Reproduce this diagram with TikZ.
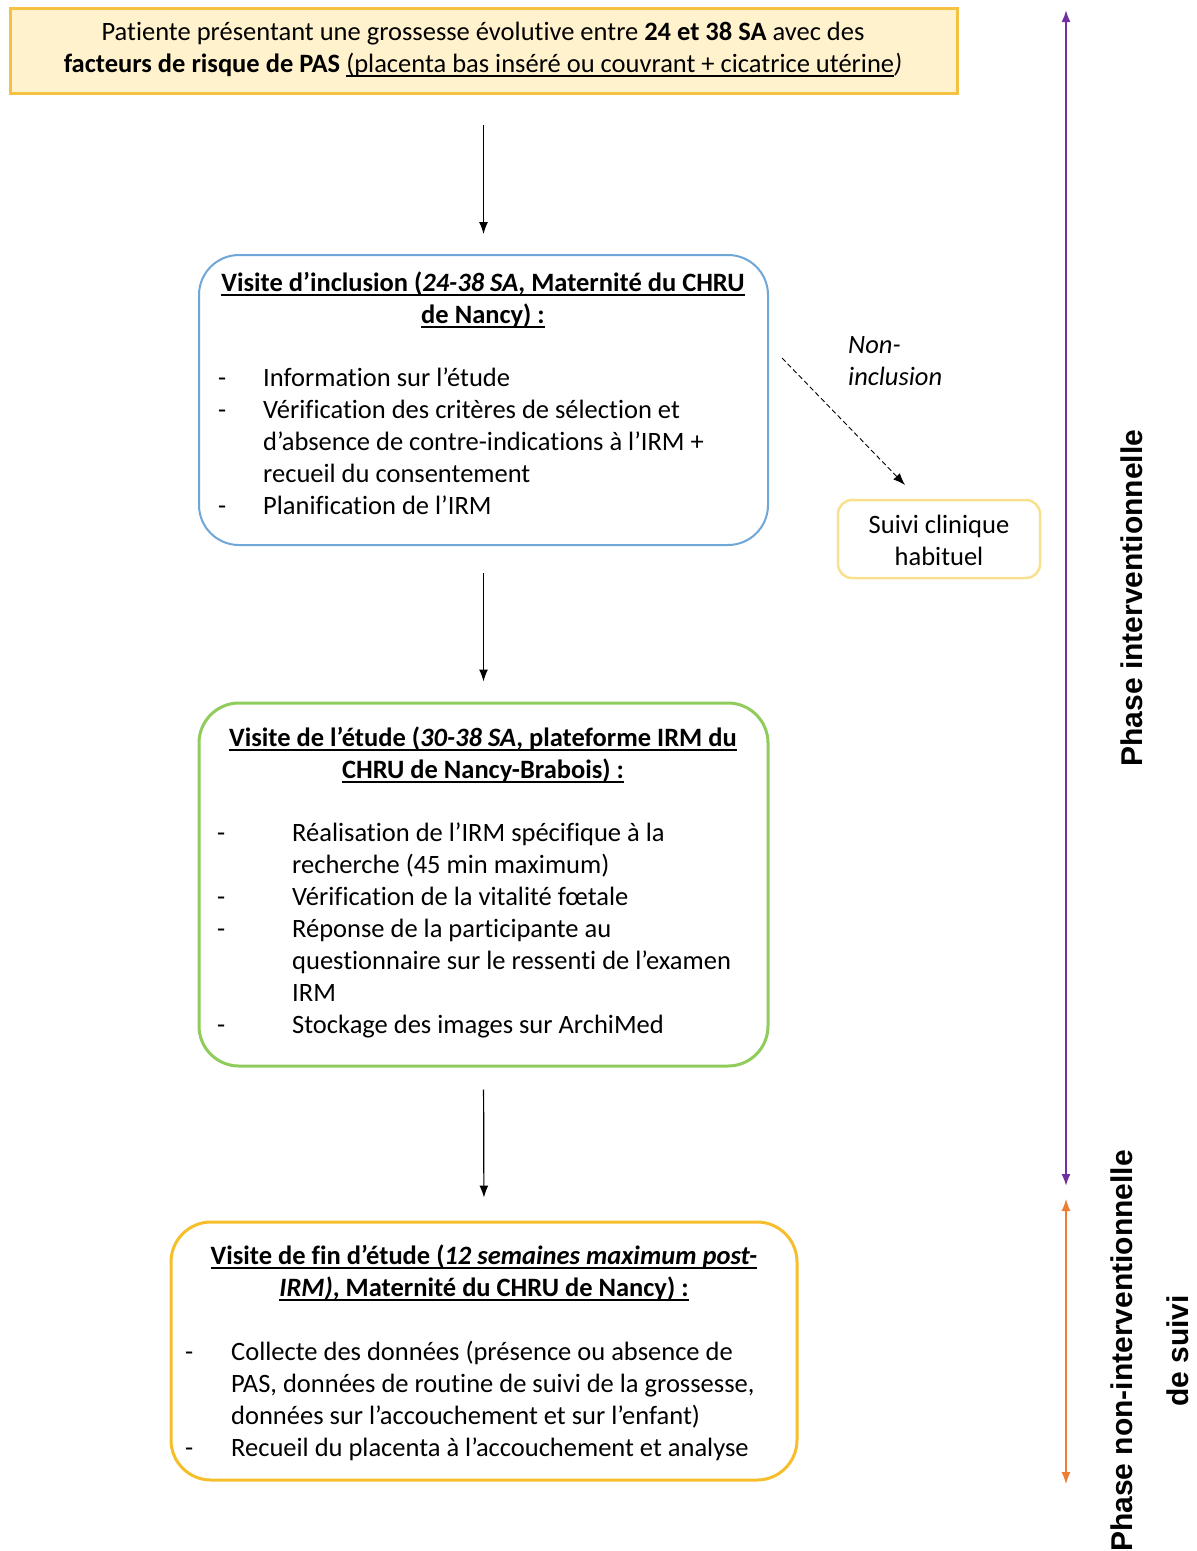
\documentclass[tikz,border=0pt]{standalone}
\usepackage{fontspec}
\setmainfont{Carlito}[Ligatures=NoCommon]
\newfontfamily\arialf{Liberation Sans}
\newcommand\ulin[1]{\setbox0\hbox{#1}\rlap{\rule[-4.5pt]{\wd0}{1.4pt}}\box0}
\usetikzlibrary{arrows.meta}
\definecolor{topfill}{HTML}{FFF2CC}
\definecolor{topline}{HTML}{F4C141}
\definecolor{blueline}{HTML}{6FA6D8}
\definecolor{greenline}{HTML}{8FCC5C}
\definecolor{goldline}{HTML}{F6BE2A}
\definecolor{paleline}{HTML}{F8E08E}
\definecolor{purp}{HTML}{7030A0}
\definecolor{oran}{HTML}{ED7D31}
\tikzset{
  bodyfont/.style={font=\fontsize{26.5}{32}\selectfont},
  txt/.style={inner sep=0pt, bodyfont},
  stepbox/.style={draw, rounded corners=40pt, fill=white},
  arr/.style={-{Latex[length=12pt,width=9pt]}, line width=1.2pt, black},
  phasearr/.style={{Latex[length=12pt,width=9pt]}-{Latex[length=12pt,width=9pt]}},
  phasetxt/.style={inner sep=0pt, rotate=90, align=center, font=\arialf\bfseries\fontsize{30}{56}\selectfont},
}
\begin{document}
\begin{tikzpicture}[x=1pt,y=-1pt]
\useasboundingbox (0,0) rectangle (1197,1551);
% top box
\node[draw=topline, line width=3pt, fill=topfill, minimum width=947pt, minimum height=85pt] (top) at (483.5,50.5) {};
\node[txt, anchor=base] (toptxt) at (483,40) {\begin{tabular}[t]{@{}c@{}}Patiente présentant une grossesse évolutive entre \textbf{24 et 38 SA} avec des\\
\textbf{facteurs de risque de PAS} \ulin{(placenta bas inséré ou couvrant + cicatrice utérine}\textit{)}\end{tabular}};
% inclusion box
\node[stepbox, draw=blueline, line width=2pt, minimum width=569pt, minimum height=290pt] (incl) at (483.5,400) {};
\node[txt, anchor=base] (inclt) at (483,291) {\begin{tabular}[t]{@{}c@{}}\bfseries\ulin{Visite d’inclusion (\textit{24-38 SA}, Maternité du CHRU}\\
\bfseries\ulin{de Nancy) :}\end{tabular}};
\node[txt, anchor=base west] (incll) at (218,386) {\begin{tabular}[t]{@{}p{45pt}@{}l@{}}
-& Information sur l’étude\\
-& Vérification des critères de sélection et\\
 & d’absence de contre-indications à l’IRM +\\
 & recueil du consentement\\
-& Planification de l’IRM
\end{tabular}};
% study visit box
\node[stepbox, draw=greenline, line width=3pt, minimum width=569pt, minimum height=363pt] (etude) at (483.5,884.5) {};
\node[txt, anchor=base] (etudet) at (483,746) {\begin{tabular}[t]{@{}c@{}}\bfseries\ulin{Visite de l’étude (\textit{30-38 SA}, plateforme IRM du}\\
\bfseries\ulin{CHRU de Nancy-Brabois) :}\end{tabular}};
\node[txt, anchor=base west] (etudel) at (217,841) {\begin{tabular}[t]{@{}p{75pt}@{}l@{}}
-& Réalisation de l’IRM spécifique à la\\
 & recherche (45 min maximum)\\
-& Vérification de la vitalité fœtale\\
-& Réponse de la participante au\\
 & questionnaire sur le ressenti de l’examen\\
 & IRM\\
-& Stockage des images sur ArchiMed
\end{tabular}};
% end-of-study box
\node[stepbox, draw=goldline, line width=3pt, minimum width=626pt, minimum height=258pt] (fin) at (484,1351) {};
\node[txt, anchor=base] (fint) at (484,1264) {\begin{tabular}[t]{@{}c@{}}\bfseries\ulin{Visite de fin d’étude (\textit{12 semaines maximum post-}}\\
\bfseries\ulin{\textit{IRM)}, Maternité du CHRU de Nancy) :}\end{tabular}};
\node[txt, anchor=base west] (finl) at (185,1360) {\begin{tabular}[t]{@{}p{46pt}@{}l@{}}
-& Collecte des données (présence ou absence de\\
 & PAS, données de routine de suivi de la grossesse,\\
 & données sur l’accouchement et sur l’enfant)\\
-& Recueil du placenta à l’accouchement et analyse
\end{tabular}};
% suivi box
\node[draw=paleline, line width=2.5pt, rounded corners=14pt, minimum width=202pt, minimum height=78pt] (suivi) at (939,539) {};
\node[txt, anchor=base] (suivit) at (939,533) {\begin{tabular}[t]{@{}c@{}}Suivi clinique\\habituel\end{tabular}};
% non-inclusion
\coordinate (ds) at (782,358);
\coordinate (de) at (905,485);
\draw[-{Latex[length=12pt,width=9pt]}, line width=0.9pt, dash pattern=on 5pt off 3pt] (ds) -- (de);
\node[txt, anchor=base west] (noninc) at (848,353) {\begin{tabular}[t]{@{}l@{}}\itshape Non-\\\itshape inclusion\end{tabular}};
% vertical arrows
\draw[arr, shorten <=30pt, shorten >=20pt] (top.south) -- (incl.north);
\draw[arr, shorten <=27pt, shorten >=20pt] (incl.south) -- (etude.north);
\draw[arr, shorten <=22pt, shorten >=23pt] (etude.south) -- (fin.north);
% phases
\coordinate (p1) at (1066,10);
\coordinate (p2) at (1066,1186);
\coordinate (o1) at (1066,1199);
\coordinate (o2) at (1066,1484);
\draw[phasearr, purp, line width=2pt] (p1) -- (p2);
\draw[phasearr, oran, line width=1.2pt] (o1) -- (o2);
\node[phasetxt] (ph1) at (1132,598) {Phase interventionnelle};
\node[phasetxt] (ph2) at (1150,1351) {Phase non-interventionnelle\\de suivi};
\end{tikzpicture}
\end{document}
